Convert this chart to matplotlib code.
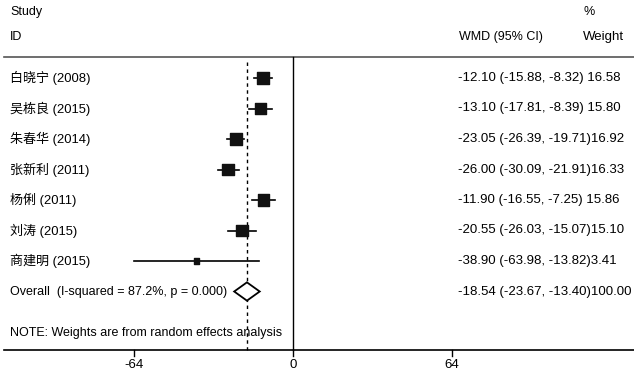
import numpy as np
import matplotlib
matplotlib.use("Agg")
import matplotlib.pyplot as plt

plt.rcParams['font.family'] = ['Liberation Sans', 'Noto Sans CJK SC', 'DejaVu Sans']

studies = ['白晓宁 (2008)', '吴栋良 (2015)', '朱春华 (2014)', '张新利 (2011)',
           '杨俐 (2011)', '刘涛 (2015)', '商建明 (2015)']
wmd = [-12.10, -13.10, -23.05, -26.00, -11.90, -20.55, -38.90]
lo = [-15.88, -17.81, -26.39, -30.09, -16.55, -26.03, -63.98]
hi = [-8.32, -8.39, -19.71, -21.91, -7.25, -15.07, -13.82]
weight = [16.58, 15.80, 16.92, 16.33, 15.86, 15.10, 3.41]

overall = -18.54
overall_lo = -23.67
overall_hi = -13.40
overall_label = 'Overall  (I-squared = 87.2%, p = 0.000)'
ticks = [-64, 0, 64]

# pixel layout: 0 at x=293, 64 units = 159 px; rows start y=78, step 30.5 px
W, H = 634, 371
ppu = 159 / 64.0
x0 = 293
fig = plt.figure(figsize=(W / 100, H / 100), dpi=100)
ax = fig.add_axes([0, 0, 1, 1])
ax.set_xlim(-x0 / ppu, (W - x0) / ppu)
ax.set_ylim((H - 78) / 30.5, -78 / 30.5)
ax.axis('off')

def py(p):
    return (p - 78) / 30.5

def px(p):
    return (p - x0) / ppu

fs = 9.0   # labels
fc = 9.4   # study names (CJK)
fn = 9.5   # number columns
n = len(studies)
rows = np.arange(n)

# header
ax.text(px(10), py(12), 'Study', fontsize=fs, va='center')
ax.text(px(10), py(37), 'ID', fontsize=fs, va='center')
ax.text(px(459), py(37), 'WMD (95% CI)', fontsize=fs, va='center')
ax.text(px(583), py(12), '%', fontsize=fs, va='center')
ax.text(px(583), py(37), 'Weight', fontsize=fn, va='center')
ax.plot([px(4), px(634)], [py(57), py(57)], color='#555555', lw=1.2)

# reference lines
ax.plot([0, 0], [py(57), py(350)], color='black', lw=1.0)
ax.plot([overall, overall], [py(62), py(350)], color='black', lw=1.0,
        ls=(0, (2.5, 2.5)))

# studies
for i in range(n):
    ax.plot([lo[i], hi[i]], [rows[i], rows[i]], color='black', lw=1.2)
    ax.text(px(10), rows[i], studies[i], fontsize=fc, va='center')
    ci = f'{wmd[i]:.2f} ({lo[i]:.2f}, {hi[i]:.2f})'
    ax.text(px(458), rows[i], ci.ljust(23) + f'{weight[i]:.2f}',
            fontsize=fn, va='center')
ax.scatter(wmd, rows, s=np.array(weight) * 4.5, marker='s', color='#111111',
           zorder=3)

# overall diamond
yo = n
d = 0.3
ax.fill([overall_lo, overall, overall_hi, overall, overall_lo],
        [yo, yo - d, yo, yo + d, yo], facecolor='white', edgecolor='black',
        lw=1.3, zorder=3)
ax.text(px(10), yo, overall_label, fontsize=fs, va='center')
ax.text(px(458), yo, f'{overall:.2f} ({overall_lo:.2f}, {overall_hi:.2f})100.00',
        fontsize=fn, va='center')

ax.text(px(10), py(333), 'NOTE: Weights are from random effects analysis',
        fontsize=fs, va='center')

# x axis
ya = py(350)
ax.plot([px(4), px(634)], [ya, ya], color='black', lw=1.2)
for t in ticks:
    ax.plot([t, t], [ya, ya + 6 / 30.5], color='black', lw=1.0)
    ax.text(t, py(365), str(t), fontsize=fn, ha='center', va='center')

fig.savefig('out.png', dpi=100)
